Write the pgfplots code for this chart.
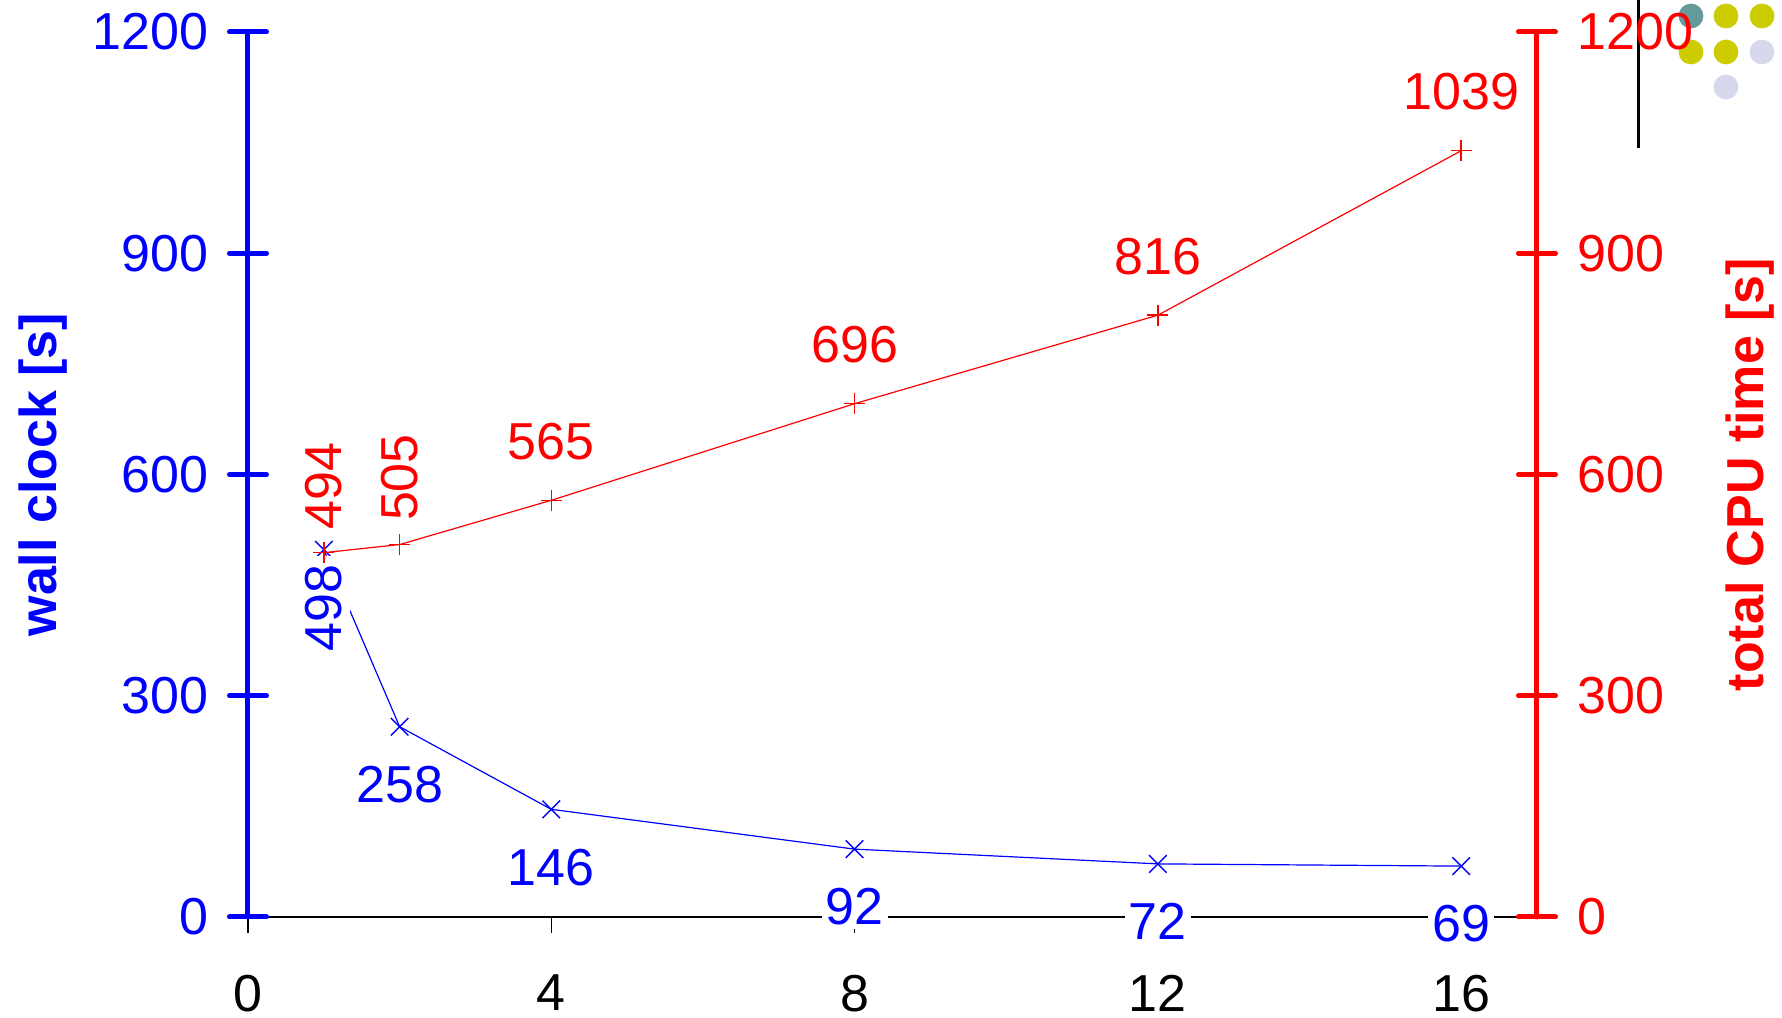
\documentclass[border=0pt]{standalone}
\usepackage{fontspec}
\setmainfont{Liberation Sans}
\usepackage{pgfplots}
\pgfplotsset{compat=1.18}
\usepackage{pgfplotstable}

% run time against number of threads
\pgfplotstableread{
threads wall cpu
1  498 494
2  258 505
4  146 565
8  92  696
12 72  816
16 69  1039
}\timings

\definecolor{wallblue}{RGB}{0,0,255}
\definecolor{cpured}{RGB}{255,0,0}
\definecolor{logoteal}{RGB}{102,153,153}
\definecolor{logoyellow}{RGB}{204,204,0}
\definecolor{logolav}{RGB}{216,216,236}

\tikzset{vals/.style={font=\fontsize{13}{15}\selectfont, inner sep=1pt}}

\pgfplotsset{
  common/.style={
    at={(0,0)}, anchor=south west, scale only axis,
    width=322.25pt, height=221.25pt,
    xmin=0, xmax=17, ymin=0, ymax=1200,
    clip=false,
    /pgf/number format/assume math mode=true,
    /pgf/number format/1000 sep={},
    tick label style={font=\fontsize{13}{15}\selectfont},
  },
  yside/.style 2 args={
    axis x line=none,
    ytick={0,300,...,1200},
    tick align=center, major tick length=9.25pt,
    y axis line style={#1, line width=1.25pt, line cap=round},
    ytick style={#1, line width=1.25pt, line cap=round},
    yticklabel style={#1, xshift=#2},
  },
}

\begin{document}
\begin{tikzpicture}
\path[use as bounding box] (-62pt,-25.25pt) rectangle (383.5pt,229.25pt);

% logo in the corner
\draw[black, line width=0.75pt] (347.5pt,229.25pt) -- (347.5pt,192.25pt);
\fill[logoteal]   (360.75pt,225.25pt) circle (3.1pt);
\fill[logoyellow] (369.5pt,225.25pt)  circle (3.1pt);
\fill[logoyellow] (378.5pt,225.25pt)  circle (3.1pt);
\fill[logoyellow] (360.75pt,216.25pt) circle (3.1pt);
\fill[logoyellow] (369.5pt,216.25pt)  circle (3.1pt);
\fill[logolav]    (378.5pt,216.25pt)  circle (3.1pt);
\fill[logolav]    (369.5pt,207.5pt)   circle (3.1pt);

% x axis first, so that the value boxes can sit on top of it
\begin{axis}[common,
  axis x line*=bottom, axis y line=none,
  xtick={0,4,8,12,16}, ytick=\empty,
  tick align=outside, major tick length=4pt,
  x axis line style={black, line width=0.3pt},
  xtick style={black, line width=0.3pt},
  xticklabel style={black, yshift=-7pt},
]
\end{axis}

% wall clock time, left axis
\begin{axis}[common, yside={wallblue}{-1.7pt}, axis y line*=left]
\addplot[wallblue, line width=0.3pt, mark=x, mark size=3.1pt,
  mark options={line width=0.35pt}] table[x=threads, y=wall] {\timings};
\addplot[draw=none, restrict x to domain=2:16, nodes near coords,
  nodes near coords style={vals, wallblue, fill=white, anchor=north, outer sep=8.85pt}]
  table[x=threads, y=wall] {\timings};
\addplot[draw=none, restrict x to domain=0:1, nodes near coords,
  nodes near coords style={vals, wallblue, fill=white, inner sep=2pt, rotate=90, anchor=east, outer sep=1.65pt}]
  table[x=threads, y=wall] {\timings};
\end{axis}

% total CPU time, right axis
\begin{axis}[common, yside={cpured}{2pt}, axis y line*=right]
\addplot[cpured, line width=0.3pt, mark=+, mark size=2.6pt,
  mark options={line width=0.35pt}] table[x=threads, y=cpu] {\timings};
\addplot[draw=none, restrict x to domain=4:16, nodes near coords,
  nodes near coords style={vals, cpured, anchor=south, outer sep=9.1pt}]
  table[x=threads, y=cpu] {\timings};
\addplot[draw=none, restrict x to domain=0:2, nodes near coords,
  nodes near coords style={vals, cpured, rotate=90, anchor=west, outer sep=4.9pt}]
  table[x=threads, y=cpu] {\timings};
\end{axis}

\node[rotate=90, wallblue, font=\bfseries\fontsize{13}{15}\selectfont]
  at (-51.25pt,110.6pt) {wall clock [s]};
\node[rotate=90, cpured, font=\bfseries\fontsize{13}{15}\selectfont]
  at (375.5pt,110.6pt) {total CPU time [s]};
\end{tikzpicture}
\end{document}
